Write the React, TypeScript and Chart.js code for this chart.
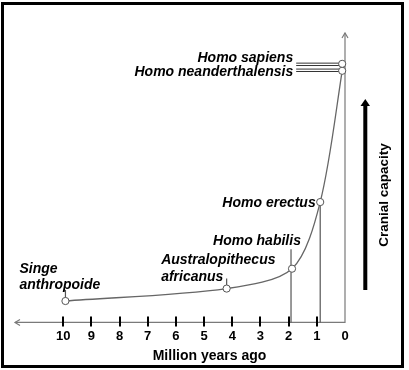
import React, { useEffect, useRef } from "react";
import { Chart, registerables } from "chart.js";

Chart.register(...registerables);

// ---- Data ----
const speciesLabels: string[][] = [
  ["Singe", "anthropoide"],
  ["Australopithecus", "africanus"],
  ["Homo habilis"],
  ["Homo erectus"],
  ["Homo neanderthalensis"],
  ["Homo sapiens"],
];
const millionYearsAgo = [9.92, 4.2, 1.88, 0.88, 0.1, 0.1];
const cranialCapacity = [21.5, 34, 54, 121, 253, 260];
const tickValues = [0, 1, 2, 3, 4, 5, 6, 7, 8, 9, 10];
const xAxisTitle = "Million years ago";
const yAxisTitle = "Cranial capacity";

const FONT = "'Liberation Sans', Arial, Helvetica, sans-serif";

const annotationPlugin = {
  id: "annotations",
  beforeDatasetsDraw(chart: any) {
    const { ctx, chartArea, scales } = chart;
    const xs = scales.x;
    const ys = scales.y;
    const bottom = chartArea.bottom;
    const right = xs.getPixelForValue(0);
    const left = chartArea.left;
    const top = chartArea.top;
    ctx.save();
    // axes
    ctx.strokeStyle = "#7a7a7a";
    ctx.lineWidth = 1.2;
    ctx.beginPath();
    ctx.moveTo(left, bottom);
    ctx.lineTo(right, bottom);
    ctx.lineTo(right, top);
    ctx.stroke();
    // arrow heads (open chevrons)
    ctx.beginPath();
    ctx.moveTo(left + 5, bottom - 3);
    ctx.lineTo(left, bottom);
    ctx.lineTo(left + 5, bottom + 3);
    ctx.moveTo(right - 3, top + 5);
    ctx.lineTo(right, top);
    ctx.lineTo(right + 3, top + 5);
    ctx.stroke();
    // tick marks
    ctx.strokeStyle = "#000";
    ctx.lineWidth = 2;
    tickValues.forEach((v) => {
      if (v === 0) return;
      const x = Math.round(xs.getPixelForValue(v));
      ctx.beginPath();
      ctx.moveTo(x, bottom - 6);
      ctx.lineTo(x, bottom + 4);
      ctx.stroke();
    });
    // leader lines
    const pts = millionYearsAgo.map((m, i) => ({
      x: xs.getPixelForValue(m),
      y: ys.getPixelForValue(cranialCapacity[i]),
    }));
    ctx.strokeStyle = "#555";
    ctx.lineWidth = 1.2;
    const vline = (x: number, y1: number, y2: number) => {
      ctx.beginPath();
      ctx.moveTo(x, y1);
      ctx.lineTo(x, y2);
      ctx.stroke();
    };
    vline(pts[0].x, pts[0].y - 11, pts[0].y);
    vline(pts[1].x, pts[1].y - 10, pts[1].y);
    vline(pts[2].x - 1, pts[2].y - 19.5, bottom);
    vline(pts[3].x, pts[3].y, bottom);
    // double lines for sapiens / neanderthal
    ctx.strokeStyle = "#333";
    ctx.lineWidth = 1;
    [4, 5].forEach((i) => {
      const p = pts[i];
      const cy = i === 5 ? p.y + 0.5 : p.y - 0.5;
      [-1.2, 1.2].forEach((d) => {
        ctx.beginPath();
        ctx.moveTo(p.x - 46, cy + d);
        ctx.lineTo(p.x - 3, cy + d);
        ctx.stroke();
      });
    });
    ctx.restore();
  },
  afterDraw(chart: any) {
    const { ctx, scales } = chart;
    const xs = scales.x;
    const ys = scales.y;
    const pts = millionYearsAgo.map((m, i) => ({
      x: xs.getPixelForValue(m),
      y: ys.getPixelForValue(cranialCapacity[i]),
    }));
    ctx.save();
    ctx.fillStyle = "#000";
    ctx.font = `italic bold 14px ${FONT}`;
    ctx.textBaseline = "alphabetic";
    // label placements relative to each point
    const place = [
      { align: "left", dx: -46, dy: [-28.5, -12.5] },
      { align: "left", dx: -65.5, dy: [-24.7, -7.5] },
      { align: "left", dx: -79, dy: [-23.3] },
      { align: "right", dx: -4.5, dy: [4.5] },
      { align: "right", dx: -49, dy: [5] },
      { align: "right", dx: -49, dy: [-2] },
    ];
    speciesLabels.forEach((lines, i) => {
      const pl = place[i];
      ctx.textAlign = pl.align;
      lines.forEach((t, j) => {
        ctx.fillText(t, pts[i].x + pl.dx, pts[i].y + pl.dy[j]);
      });
    });
    // x-axis title
    ctx.font = `bold 14px ${FONT}`;
    ctx.textAlign = "center";
    ctx.fillText(xAxisTitle, 209.5, 360);
    // cranial capacity arrow
    ctx.strokeStyle = "#000";
    ctx.lineWidth = 4;
    ctx.beginPath();
    ctx.moveTo(365.3, 290);
    ctx.lineTo(365.3, 104);
    ctx.stroke();
    ctx.beginPath();
    ctx.moveTo(365.3, 99);
    ctx.lineTo(360.5, 106);
    ctx.lineTo(370, 106);
    ctx.closePath();
    ctx.fill();
    ctx.save();
    ctx.translate(384, 195);
    ctx.rotate(-Math.PI / 2);
    ctx.font = `bold 13.5px ${FONT}`;
    ctx.textAlign = "center";
    ctx.textBaseline = "middle";
    ctx.fillText(yAxisTitle, 0, 0);
    ctx.restore();
    // outer frame
    ctx.lineWidth = 3;
    ctx.strokeRect(2.5, 3.5, 400, 363);
    ctx.restore();
  },
};

export default function App() {
  const ref = useRef<HTMLCanvasElement | null>(null);
  useEffect(() => {
    if (!ref.current) return;
    const chart = new Chart(ref.current, {
      type: "line",
      data: {
        datasets: [
          {
            data: millionYearsAgo.map((m, i) => ({ x: m, y: cranialCapacity[i] })),
            borderColor: "#666",
            borderWidth: 1.3,
            tension: 0.3,
            pointRadius: 3.6,
            pointBackgroundColor: "#fff",
            pointBorderColor: "#555",
            pointBorderWidth: 1,
            clip: false as any,
          },
        ],
      },
      options: {
        animation: false,
        responsive: false,
        layout: { padding: { left: 15, right: 64, top: 33, bottom: 20 } },
        plugins: { legend: { display: false }, tooltip: { enabled: false } },
        scales: {
          x: {
            type: "linear",
            min: 0,
            max: 11.71,
            reverse: true,
            grid: { display: false, drawTicks: false },
            border: { display: false },
            afterBuildTicks: (s: any) => {
              s.ticks = tickValues.map((v) => ({ value: v }));
            },
            ticks: {
              autoSkip: false,
              maxRotation: 0,
              padding: 6,
              color: "#000",
              font: { family: FONT, size: 13, weight: "bold" },
            },
          },
          y: { type: "linear", min: 0, max: 291, display: false },
        },
      },
      plugins: [annotationPlugin],
    });
    return () => chart.destroy();
  }, []);
  return (
    <canvas
      ref={ref}
      width={409}
      height={370}
      style={{ position: "absolute", left: 0, top: 0, width: 409, height: 370 }}
    />
  );
}
